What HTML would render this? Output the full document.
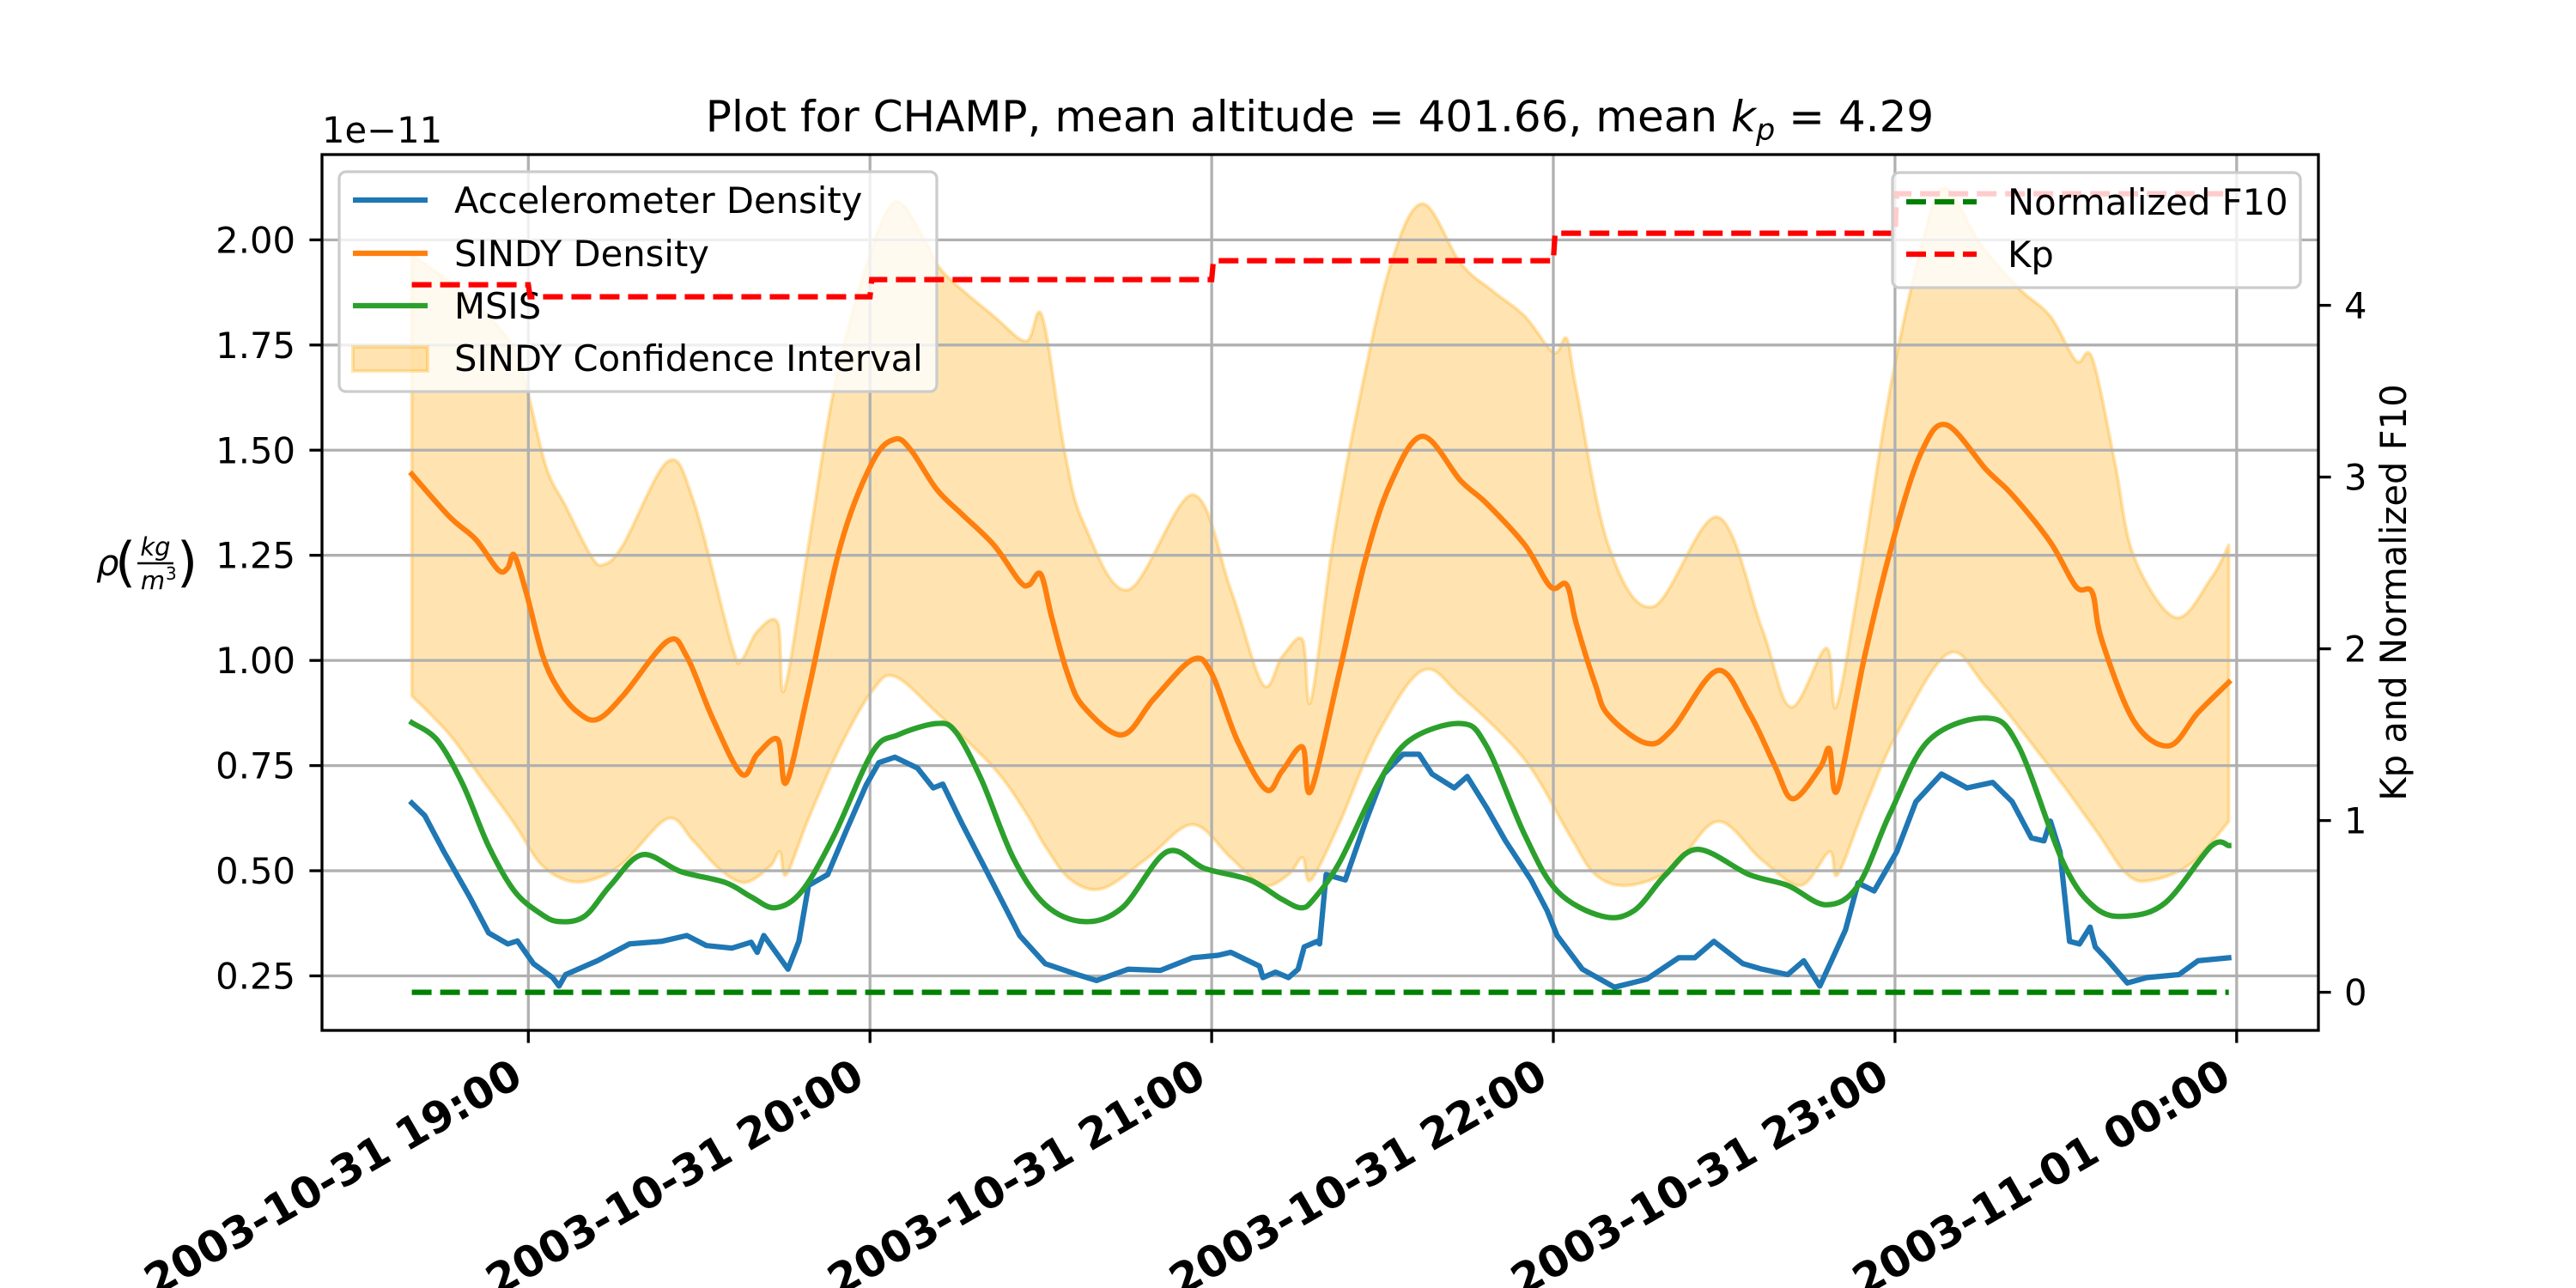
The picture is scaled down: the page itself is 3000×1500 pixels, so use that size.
<!DOCTYPE html>
<html><head><meta charset="utf-8"><style>
html,body{margin:0;padding:0;background:#fff;}
svg{display:block;font-family:"DejaVu Sans","Liberation Sans",sans-serif;}
</style></head><body>
<svg id="chart" width="3000" height="1500" viewBox="0 0 3000 1500" xmlns="http://www.w3.org/2000/svg">
<defs><clipPath id="plotclip"><rect x="375" y="180" width="2325" height="1020"/></clipPath></defs>
<rect x="0" y="0" width="3000" height="1500" fill="#fff"/>
<g id="fillLayer" clip-path="url(#plotclip)"></g>
<g id="gridLayer"></g>
<g id="lineLayer" clip-path="url(#plotclip)"></g>
<g id="axisLayer"></g>
<g id="legendLeft"></g>
<g id="rightLayer" clip-path="url(#plotclip)"></g>
<g id="legendRight"></g>
<text x="1537" y="153" font-size="50" text-anchor="middle">Plot for CHAMP, mean altitude = 401.66, mean <tspan font-style="italic">k</tspan><tspan font-style="italic" font-size="35" dy="10">p</tspan><tspan dy="-10"> = 4.29</tspan></text>
<text x="375" y="166" font-size="41.7">1e−11</text>
<g font-size="41.7">
<text x="112" y="670" font-style="italic">ρ</text>
<text x="134" y="676" font-size="62">(</text>
<text x="181" y="647" font-size="29" font-style="italic" text-anchor="middle">kg</text>
<line x1="160" y1="656" x2="202" y2="656" stroke="#000" stroke-width="2.5"/>
<text x="178" y="686" font-size="29" font-style="italic" text-anchor="middle">m</text>
<text x="193" y="675" font-size="20">3</text>
<text x="206" y="676" font-size="62">)</text>
</g>
<text transform="translate(2802,690) rotate(-90)" font-size="41.7" text-anchor="middle">Kp and Normalized F10</text>
</svg>
<script>
// ---- data (values in units of 1e-11 kg/m^3, times in hours of 2003-10-31) ----
const tickHours = [19, 20, 21, 22, 23, 24];
const tickLabels = ["2003-10-31 19:00","2003-10-31 20:00","2003-10-31 21:00","2003-10-31 22:00","2003-10-31 23:00","2003-11-01 00:00"];
const leftTicks = [0.25, 0.50, 0.75, 1.00, 1.25, 1.50, 1.75, 2.00];
const leftTickLabels = ["0.25","0.50","0.75","1.00","1.25","1.50","1.75","2.00"];
const rightTicks = [0, 1, 2, 3, 4];
const rightTickLabels = ["0","1","2","3","4"];

const sindyT = [18.659,18.77,18.846,18.912,18.94,18.959,18.996,19.043,19.09,19.146,19.202,19.277,19.408,19.464,19.539,19.624,19.67,19.73,19.755,19.82,19.914,20.008,20.073,20.12,20.195,20.27,20.363,20.438,20.466,20.5,20.532,20.578,20.625,20.738,20.831,20.944,21.0,21.075,21.159,21.206,21.266,21.29,21.373,21.448,21.523,21.617,21.729,21.804,21.917,21.992,22.039,22.067,22.123,22.161,22.273,22.348,22.48,22.573,22.648,22.701,22.78,22.808,22.832,22.911,23.004,23.08,23.151,23.268,23.343,23.455,23.53,23.577,23.605,23.699,23.802,23.887,23.977];
const sindyV = [1.443,1.341,1.288,1.215,1.22,1.250,1.155,1.009,0.929,0.876,0.860,0.916,1.046,1.009,0.863,0.730,0.777,0.812,0.710,0.929,1.274,1.473,1.526,1.50,1.407,1.347,1.274,1.188,1.18,1.205,1.102,0.969,0.890,0.823,0.909,1.002,0.969,0.810,0.693,0.737,0.794,0.690,0.969,1.234,1.420,1.533,1.427,1.374,1.274,1.175,1.18,1.088,0.943,0.870,0.803,0.836,0.976,0.876,0.750,0.671,0.744,0.790,0.693,1.009,1.314,1.500,1.560,1.453,1.394,1.281,1.175,1.162,1.049,0.856,0.797,0.876,0.948];

const ciUpT = [18.659,18.772,18.884,18.959,18.996,19.052,19.109,19.184,19.221,19.277,19.408,19.483,19.596,19.624,19.670,19.730,19.749,19.820,19.895,19.989,20.073,20.157,20.213,20.363,20.457,20.504,20.569,20.625,20.756,20.944,21.056,21.150,21.206,21.266,21.290,21.354,21.429,21.523,21.617,21.729,21.823,21.917,22.001,22.039,22.067,22.161,22.292,22.480,22.611,22.695,22.799,22.827,22.892,22.986,23.080,23.146,23.249,23.362,23.455,23.530,23.577,23.643,23.699,23.821,23.925,23.977];
const ciUpV = [1.964,1.898,1.818,1.739,1.646,1.460,1.367,1.248,1.228,1.274,1.473,1.380,1.035,1.002,1.069,1.089,0.929,1.274,1.646,1.938,2.090,2.004,1.924,1.818,1.759,1.818,1.500,1.327,1.168,1.394,1.168,0.943,1.009,1.049,0.903,1.274,1.606,1.938,2.086,1.944,1.878,1.818,1.732,1.765,1.646,1.274,1.128,1.341,1.075,0.889,1.029,0.889,1.168,1.646,1.991,2.123,1.991,1.885,1.818,1.712,1.719,1.473,1.248,1.102,1.195,1.274];
const ciLoT = [18.659,18.77,18.865,18.959,19.034,19.109,19.184,19.277,19.408,19.483,19.558,19.633,19.708,19.736,19.755,19.82,19.914,20.008,20.073,20.195,20.363,20.457,20.513,20.588,20.682,20.813,20.944,21.056,21.15,21.225,21.266,21.29,21.373,21.485,21.617,21.729,21.917,22.048,22.123,22.217,22.348,22.48,22.611,22.724,22.808,22.832,22.911,23.004,23.155,23.268,23.455,23.586,23.68,23.755,23.868,23.977];
const ciLoV = [0.916,0.823,0.717,0.612,0.518,0.478,0.478,0.518,0.624,0.571,0.505,0.472,0.511,0.545,0.491,0.624,0.797,0.929,0.962,0.876,0.744,0.637,0.558,0.478,0.458,0.531,0.610,0.531,0.465,0.491,0.531,0.478,0.611,0.823,0.976,0.916,0.763,0.584,0.491,0.465,0.505,0.617,0.525,0.465,0.545,0.491,0.651,0.823,1.016,0.936,0.744,0.598,0.491,0.478,0.518,0.617];

const msisT = [18.659,18.734,18.809,18.884,18.959,19.034,19.090,19.165,19.240,19.333,19.446,19.577,19.652,19.723,19.801,19.895,20.008,20.082,20.195,20.251,20.326,20.419,20.513,20.625,20.738,20.869,20.981,21.112,21.206,21.262,21.298,21.373,21.485,21.579,21.729,21.804,21.917,22.011,22.142,22.236,22.329,22.423,22.573,22.686,22.798,22.892,22.986,23.099,23.268,23.361,23.493,23.586,23.680,23.793,23.925,23.977];
const msisV = [0.852,0.810,0.704,0.558,0.452,0.399,0.379,0.392,0.465,0.538,0.498,0.472,0.438,0.412,0.452,0.584,0.783,0.823,0.850,0.830,0.717,0.531,0.419,0.379,0.412,0.545,0.505,0.478,0.432,0.412,0.432,0.518,0.704,0.810,0.850,0.797,0.584,0.452,0.392,0.405,0.491,0.551,0.491,0.465,0.419,0.465,0.637,0.810,0.863,0.797,0.518,0.412,0.392,0.425,0.558,0.560];

const accT = [18.659,18.697,18.753,18.828,18.884,18.940,18.968,19.015,19.071,19.090,19.109,19.202,19.296,19.390,19.464,19.521,19.596,19.652,19.670,19.689,19.736,19.760,19.792,19.820,19.876,19.932,19.989,20.026,20.073,20.139,20.185,20.213,20.270,20.363,20.438,20.513,20.607,20.663,20.756,20.850,20.944,21.019,21.056,21.140,21.150,21.187,21.225,21.253,21.271,21.309,21.316,21.335,21.391,21.448,21.504,21.560,21.607,21.645,21.710,21.748,21.804,21.860,21.935,21.982,22.011,22.085,22.179,22.273,22.367,22.414,22.470,22.555,22.611,22.686,22.733,22.780,22.818,22.855,22.892,22.939,23.005,23.061,23.136,23.211,23.286,23.343,23.399,23.436,23.455,23.483,23.511,23.540,23.571,23.586,23.624,23.680,23.737,23.831,23.887,23.977];
const accV = [0.661,0.631,0.545,0.438,0.352,0.326,0.333,0.279,0.246,0.226,0.253,0.286,0.326,0.332,0.346,0.322,0.316,0.330,0.306,0.346,0.293,0.266,0.332,0.465,0.491,0.598,0.704,0.757,0.770,0.744,0.697,0.706,0.611,0.465,0.346,0.279,0.253,0.239,0.266,0.263,0.293,0.299,0.306,0.273,0.246,0.259,0.246,0.266,0.319,0.332,0.326,0.491,0.478,0.611,0.730,0.777,0.777,0.730,0.697,0.724,0.651,0.571,0.478,0.405,0.346,0.266,0.223,0.242,0.293,0.293,0.332,0.279,0.266,0.253,0.286,0.226,0.293,0.359,0.471,0.452,0.545,0.664,0.730,0.697,0.710,0.664,0.578,0.571,0.618,0.545,0.332,0.326,0.366,0.319,0.286,0.233,0.246,0.253,0.286,0.293];

const kpStartHours = [18.659, 19, 20, 21, 22, 23];
const kpValues = [4.12, 4.05, 4.15, 4.26, 4.42, 4.65];
const kpEnd = 23.977;
const f10Hours = [18.659, 23.977];
const f10Values = [0, 0];

// ---- axes ----
const X = h => 615.3 + (h - 19) * 397.9;
const YL = v => 1136.5 - (v - 0.25) * 489.8;
const YR = k => 1155.6 - k * 200;
const NS = "http://www.w3.org/2000/svg";
function mk(tag, attrs, parent){ const e=document.createElementNS(NS,tag); for(const k in attrs) e.setAttribute(k,attrs[k]); parent.appendChild(e); return e; }
function pts(ts, vs, yf){ return ts.map((t,i)=>X(t).toFixed(1)+","+yf(vs[i]).toFixed(1)).join(" "); }
function xy(ts, vs, yf){ return ts.map((t,i)=>[X(t), yf(vs[i])]); }
function clamp(v,a,b){ const lo=Math.min(a,b), hi=Math.max(a,b); return Math.min(Math.max(v,lo),hi); }
// Catmull-Rom smoothing (control x clamped within segment, works in either direction)
function smooth(P, moveTo){
  let d = (moveTo ? "M" : "L") + P[0][0].toFixed(1)+","+P[0][1].toFixed(1);
  for(let i=0;i<P.length-1;i++){
    const p0=P[Math.max(0,i-1)], p1=P[i], p2=P[i+1], p3=P[Math.min(P.length-1,i+2)];
    let c1x=p1[0]+(p2[0]-p0[0])/6, c1y=p1[1]+(p2[1]-p0[1])/6;
    let c2x=p2[0]-(p3[0]-p1[0])/6, c2y=p2[1]-(p3[1]-p1[1])/6;
    c1x=clamp(c1x,p1[0],p2[0]); c2x=clamp(c2x,p1[0],p2[0]);
    d+=" C"+c1x.toFixed(1)+","+c1y.toFixed(1)+" "+c2x.toFixed(1)+","+c2y.toFixed(1)+" "+p2[0].toFixed(1)+","+p2[1].toFixed(1);
  }
  return d;
}

const fillLayer=document.getElementById('fillLayer');
const gridLayer=document.getElementById('gridLayer');
const lineLayer=document.getElementById('lineLayer');
const axisLayer=document.getElementById('axisLayer');
const rightLayer=document.getElementById('rightLayer');

// confidence fill
const upP = xy(ciUpT, ciUpV, YL);
const loP = xy(ciLoT, ciLoV, YL).reverse();
const ciD = smooth(upP, true) + " " + smooth(loP, false) + " Z";
const ci = mk('path',{d:ciD, fill:'#ffa500','fill-opacity':0.3, stroke:'#ffa500','stroke-opacity':0.3,'stroke-width':4,'stroke-linejoin':'round'},fillLayer);



// grid
tickHours.forEach(h=>{ const g=mk('line',{x1:X(h),x2:X(h),y1:180,y2:1200,stroke:'#b0b0b0','stroke-width':3.3},gridLayer);

 });
leftTicks.forEach(v=>{ const g=mk('line',{x1:375,x2:2700,y1:YL(v),y2:YL(v),stroke:'#b0b0b0','stroke-width':3.3},gridLayer);

 });

// lines
function series(ts,vs,color,name,sm){
  const d = sm ? smooth(xy(ts,vs,YL), true) : "M" + pts(ts,vs,YL).replace(/ /g," L");
  const p=mk('path',{d:d,fill:'none',stroke:color,'stroke-width':6.25,'stroke-linejoin':'round','stroke-linecap':'square'},lineLayer);
  
  
}
series(accT,accV,'#1f77b4','accelerometer-density-line',false);
series(sindyT,sindyV,'#ff7f0e','sindy-density-line',true);
series(msisT,msisV,'#2ca02c','msis-line',true);

// right axis series
const f10=mk('polyline',{points:pts(f10Hours,f10Values,YR),fill:'none',stroke:'#008000','stroke-width':6.25,'stroke-dasharray':'23 10'},rightLayer);


let kt=[],kv=[];
kpStartHours.forEach((h,i)=>{ if(i>0){kt.push(h);kv.push(kpValues[i-1]);} kt.push(h+(i>0?0.005:0)); kv.push(kpValues[i]); });
kt.push(kpEnd); kv.push(kpValues[kpValues.length-1]);
const kp=mk('polyline',{points:pts(kt,kv,YR),fill:'none',stroke:'#ff0000','stroke-width':6.25,'stroke-dasharray':'23 10'},rightLayer);



// spines & ticks
const frame=mk('rect',{x:375,y:180,width:2325,height:1020,fill:'none',stroke:'#000','stroke-width':3.3},axisLayer);


tickHours.forEach((h,i)=>{
  mk('line',{x1:X(h),x2:X(h),y1:1200,y2:1214.6,stroke:'#000','stroke-width':3.3},axisLayer);
  const x=X(h)-4, y=1262;
  const t=mk('text',{x:x,y:y,'font-size':50,'font-weight':'bold','text-anchor':'end',transform:`rotate(-30 ${x} ${y})`},axisLayer);
  t.textContent=tickLabels[i];
  
  
});
leftTicks.forEach((v,i)=>{
  mk('line',{x1:360.4,x2:375,y1:YL(v),y2:YL(v),stroke:'#000','stroke-width':3.3},axisLayer);
  const t=mk('text',{x:344,y:YL(v)+15,'font-size':41.7,'text-anchor':'end'},axisLayer);
  t.textContent=leftTickLabels[i];
  
  
});
rightTicks.forEach((v,i)=>{
  mk('line',{x1:2700,x2:2714.6,y1:YR(v),y2:YR(v),stroke:'#000','stroke-width':3.3},axisLayer);
  const t=mk('text',{x:2730,y:YR(v)+15,'font-size':41.7},axisLayer);
  t.textContent=rightTickLabels[i];
  
  
});

// legends
function legend(gid,box,entries,name){
  const g=document.getElementById(gid);
  
  
  mk('rect',{x:box[0],y:box[1],width:box[2]-box[0],height:box[3]-box[1],rx:8,fill:'#fff','fill-opacity':0.8,stroke:'#cccccc','stroke-width':3.3},g);
  entries.forEach(e=>{
    if(e.patch){ mk('rect',{x:e.hx0,y:e.y-13,width:e.hx1-e.hx0,height:28,fill:'#ffa500','fill-opacity':0.3,stroke:'#ffa500','stroke-opacity':0.3,'stroke-width':4},g); }
    else { const a={x1:e.hx0,x2:e.hx1,y1:e.y,y2:e.y,stroke:e.color,'stroke-width':6.25}; if(e.dash) a['stroke-dasharray']='23 10'; mk('line',a,g); }
    const t=mk('text',{x:e.tx,y:e.y+15,'font-size':41.7},g);
    t.textContent=e.label;
    
    
  });
}
legend('legendLeft',[395,200,1091,456],[
 {y:233,hx0:411,hx1:498,tx:529,color:'#1f77b4',label:'Accelerometer Density'},
 {y:295,hx0:411,hx1:498,tx:529,color:'#ff7f0e',label:'SINDY Density'},
 {y:356,hx0:411,hx1:498,tx:529,color:'#2ca02c',label:'MSIS'},
 {y:417,hx0:411,hx1:498,tx:529,patch:true,label:'SINDY Confidence Interval'}],'legend-left');
legend('legendRight',[2204,201,2679,335],[
 {y:235,hx0:2220,hx1:2302,tx:2338,color:'#008000',dash:true,label:'Normalized F10'},
 {y:296,hx0:2220,hx1:2302,tx:2338,color:'#ff0000',dash:true,label:'Kp'}],'legend-right');
</script>
</body></html>
